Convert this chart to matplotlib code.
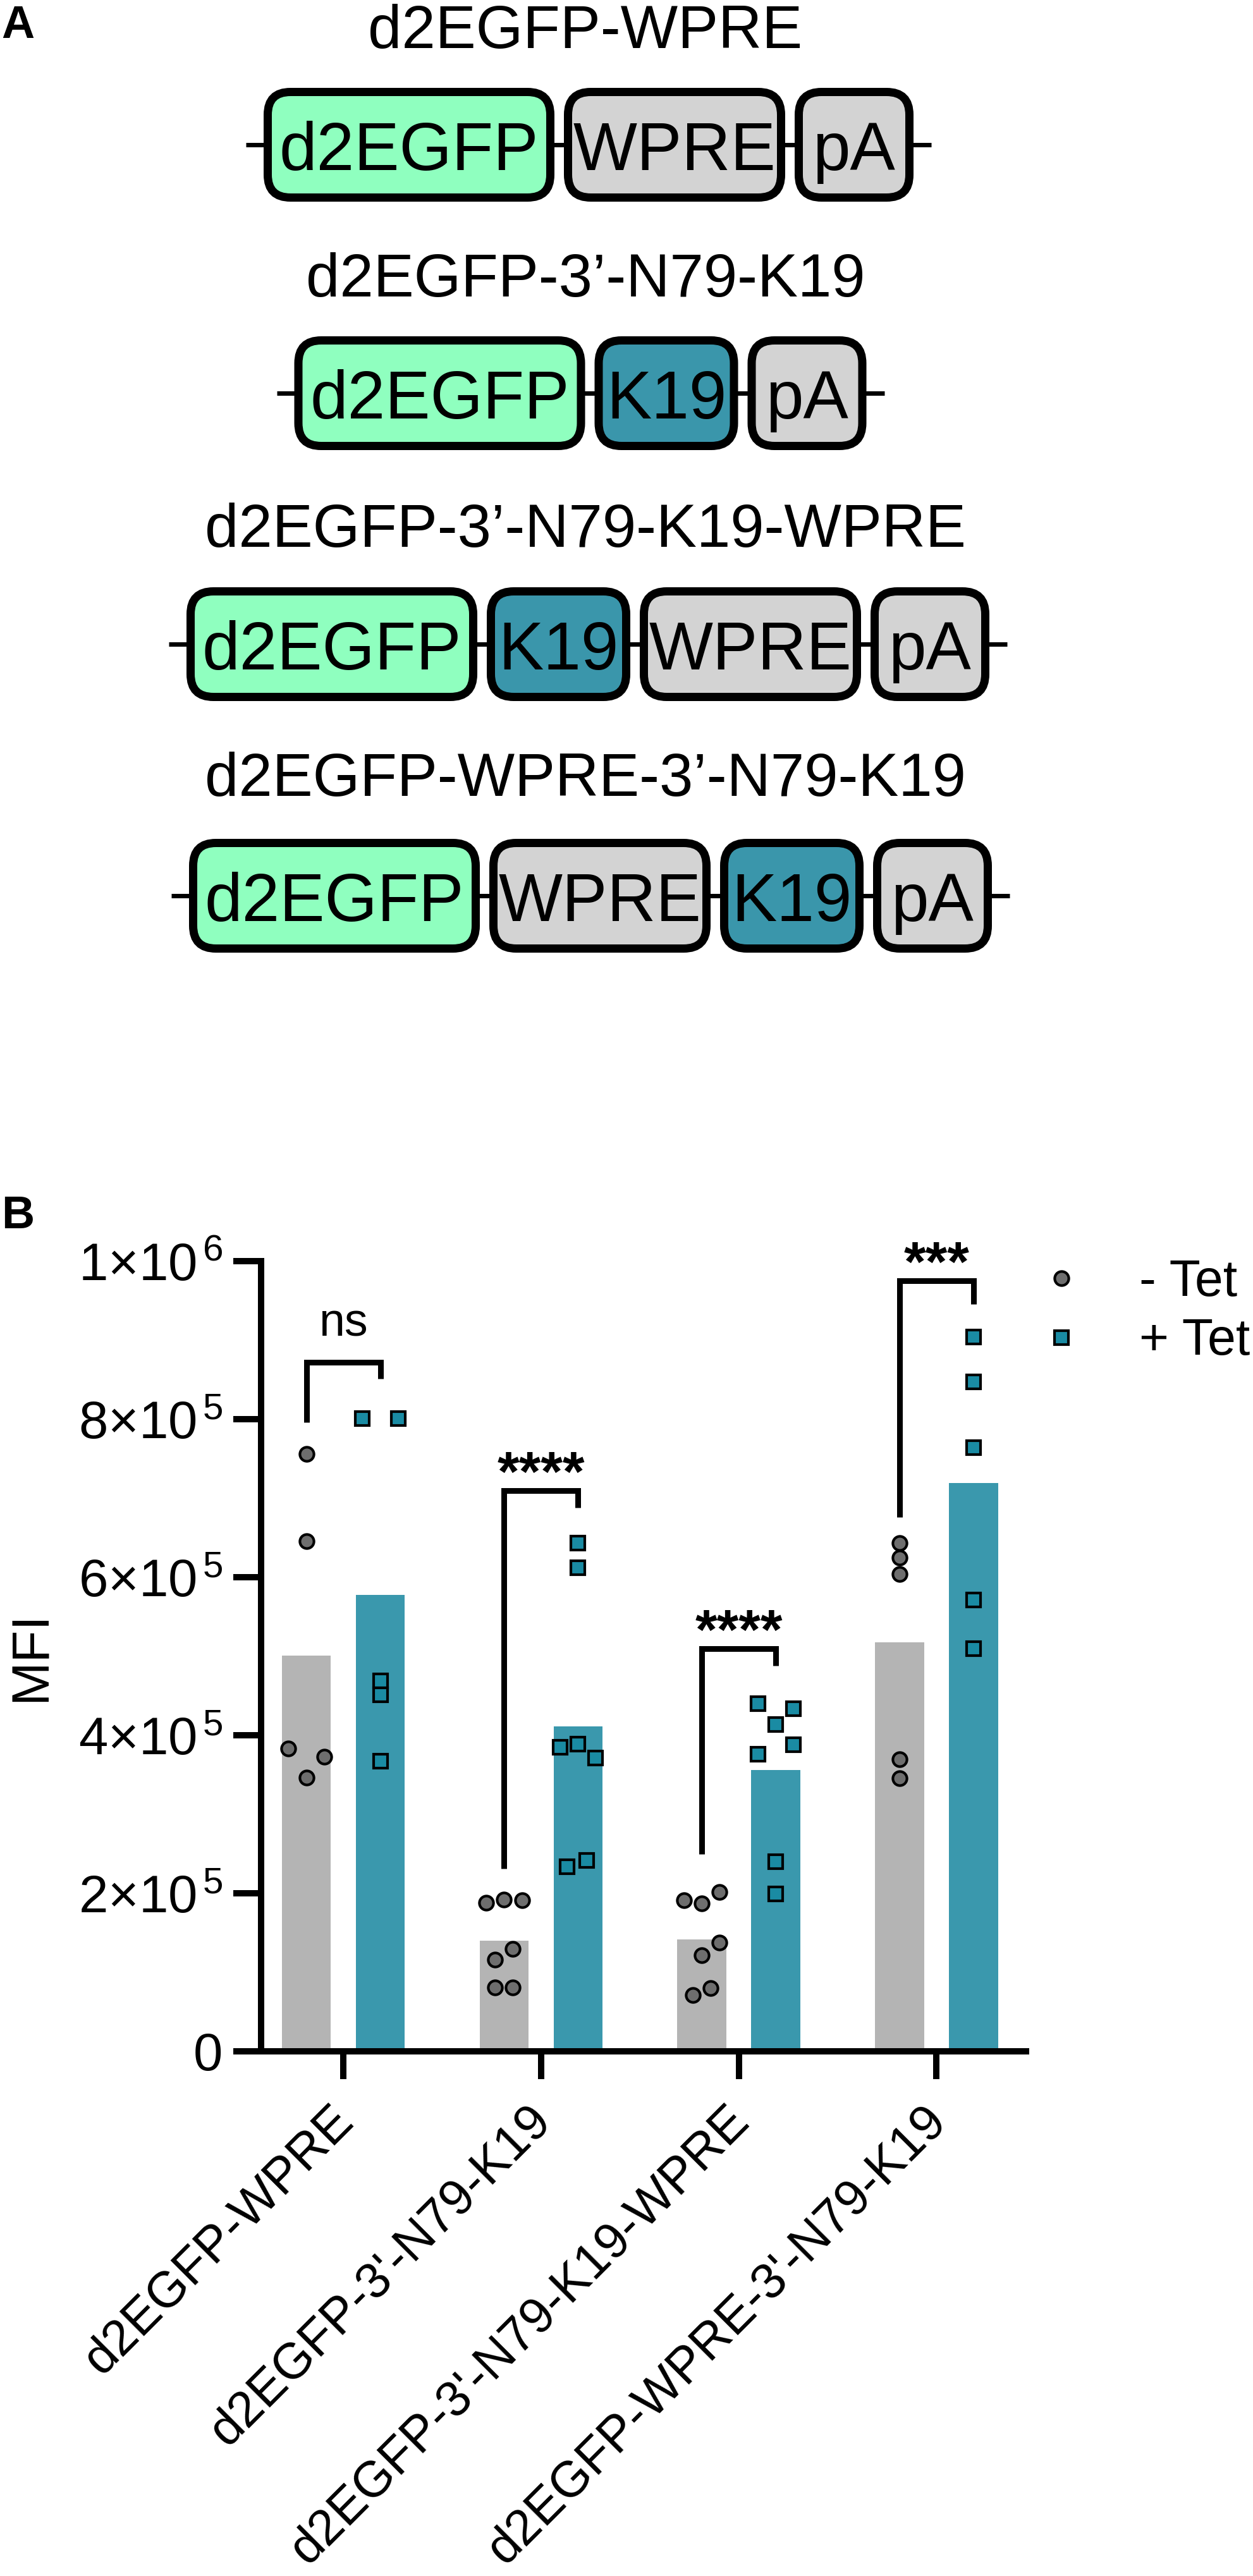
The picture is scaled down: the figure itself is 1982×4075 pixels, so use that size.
import numpy as np
import matplotlib
matplotlib.use("Agg")
import matplotlib.pyplot as plt
import matplotlib.transforms as mtransforms
from matplotlib.patches import FancyBboxPatch
from matplotlib.ticker import FixedLocator, FuncFormatter

plt.rcParams['font.family'] = ['Liberation Sans', 'DejaVu Sans']
plt.rcParams['mathtext.fontset'] = 'custom'
plt.rcParams['mathtext.rm'] = 'Liberation Sans'
plt.rcParams['mathtext.it'] = 'Liberation Sans:italic'
plt.rcParams['mathtext.bf'] = 'Liberation Sans:bold'

# ---------------- Daten ----------------
# Panel A: Konstrukte
konstrukt_titel = ['d2EGFP-WPRE', 'd2EGFP-3’-N79-K19',
                   'd2EGFP-3’-N79-K19-WPRE', 'd2EGFP-WPRE-3’-N79-K19']
konstrukt_teile = [['d2EGFP', 'WPRE', 'pA'],
                   ['d2EGFP', 'K19', 'pA'],
                   ['d2EGFP', 'K19', 'WPRE', 'pA'],
                   ['d2EGFP', 'WPRE', 'K19', 'pA']]

# Panel B: MFI
gruppen = ['d2EGFP-WPRE', "d2EGFP-3'-N79-K19",
           "d2EGFP-3'-N79-K19-WPRE", "d2EGFP-WPRE-3'-N79-K19"]
mfi_ohne_tet = [[756000, 645600, 383000, 372800, 346400],
                [188000, 192000, 191000, 116000, 130000, 81000, 81000],
                [191000, 187000, 202000, 122000, 138000, 71000, 80000],
                [643000, 625000, 604000, 370000, 345600]]
mfi_mit_tet = [[800800, 800800, 468800, 451000, 367000],
               [385000, 389000, 371000, 234000, 242000, 643000, 612000],
               [440000, 434000, 414000, 388000, 376000, 240000, 199000],
               [904000, 847000, 764000, 571000, 510000]]
# horizontale Streuung der Punkte
streuung_ohne = [[0, 0, -1, 1, 0],
                 [-1, 0, 1, -0.5, 0.5, -0.5, 0.5],
                 [-1, 0, 1, 0, 1, -0.5, 0.5],
                 [0, 0, 0, 0, 0]]
streuung_mit = [[-1, 1, 0, 0, 0],
                [-1, 0, 1, -0.6, 0.5, 0, 0],
                [-1, 1, 0, 1, -1, 0, 0],
                [0, 0, 0, 0, 0]]
signifikanz = ['ns', '****', '****', '***']
# Klammern: [linkes Ende, oben, rechtes Ende]
klammern = [[796000, 872000, 851000],
            [231000, 710000, 688000],
            [250000, 510000, 488000],
            [676000, 975000, 945600]]
y_ticks = [0, 2e5, 4e5, 6e5, 8e5, 1e6]

# ---------------- Figur ----------------
W, H = 1983, 4075
DPI = 100
px = 72 / DPI  # Pixel -> Punkt

fig = plt.figure(figsize=(W / DPI, H / DPI), dpi=DPI)
fig.patch.set_facecolor('white')

ax0 = fig.add_axes([0, 0, 1, 1])
ax0.set_xlim(0, W)
ax0.set_ylim(H, 0)
ax0.axis('off')

# Panel A
breiten = {'d2EGFP': 460, 'WPRE': 350, 'K19': 227, 'pA': 188}
farben = {'d2EGFP': '#8FFFBF', 'WPRE': '#D3D3D3', 'K19': '#3A96AB', 'pA': '#D3D3D3'}
zeilen_y = [229, 622, 1019, 1417]
zeilen_mitte = [931, 918, 930, 934]
titel_basis = [76, 469, 865, 1259]
box_h = 180
rand = 13
luecke = 15

for titel, teile, yz, xm, tb in zip(konstrukt_titel, konstrukt_teile,
                                   zeilen_y, zeilen_mitte, titel_basis):
    ax0.text(926, tb, titel, fontsize=69, ha='center', va='baseline')
    gesamt = sum(breiten[t] for t in teile) + luecke * (len(teile) - 1)
    x = xm - gesamt / 2
    ax0.plot([x - 28, x + gesamt + 28], [yz, yz], color='black',
             lw=7 * px, solid_capstyle='butt', zorder=1)
    for t in teile:
        w = breiten[t]
        box = FancyBboxPatch((x + rand / 2, yz - box_h / 2 + rand / 2),
                             w - rand, box_h - rand,
                             boxstyle='round,pad=0,rounding_size=36',
                             fc=farben[t], ec='black', lw=rand * px, zorder=2)
        ax0.add_patch(box)
        ax0.text(x + w / 2, yz + 40, t, fontsize=77, ha='center',
                 va='baseline', zorder=3)
        x += w + luecke

ax0.text(2, 60, 'A', fontsize=52, fontweight='bold', ha='left', va='baseline')
ax0.text(2, 1943, 'B', fontsize=52, fontweight='bold', ha='left', va='baseline')

# Panel B
ax_l, ax_r, ax_t, ax_b = 413, 1623, 1995, 3245
ax = fig.add_axes([ax_l / W, (H - ax_b) / H, (ax_r - ax_l) / W, (ax_b - ax_t) / H])
ax.set_facecolor('none')

xpos = np.arange(len(gruppen))
versatz = 0.187
breite = 0.248
streu_einheit = 0.09

mittel_ohne = [np.mean(v) for v in mfi_ohne_tet]
mittel_mit = [np.mean(v) for v in mfi_mit_tet]

ax.bar(xpos - versatz, mittel_ohne, width=breite, color='#B4B4B4', zorder=1)
ax.bar(xpos + versatz, mittel_mit, width=breite, color='#3A98AD', zorder=1)

for i in range(len(gruppen)):
    ax.plot(xpos[i] - versatz + np.array(streuung_ohne[i]) * streu_einheit,
            mfi_ohne_tet[i], 'o', ms=16, mfc='#6E6E6E', mec='black',
            mew=3, zorder=3, clip_on=False)
    ax.plot(xpos[i] + versatz + np.array(streuung_mit[i]) * streu_einheit,
            mfi_mit_tet[i], 's', ms=16, mfc='#1A8BA3', mec='black',
            mew=3, zorder=3, clip_on=False)

    links, oben, rechts = klammern[i]
    xl, xr = xpos[i] - versatz, xpos[i] + versatz
    ax.plot([xl, xl, xr, xr], [links, oben, oben, rechts], color='black',
            lw=9 * px, solid_capstyle='butt', solid_joinstyle='miter',
            zorder=4, clip_on=False)
    if signifikanz[i] == 'ns':
        ax.annotate('ns', xy=(xpos[i], oben), xytext=(0, 30),
                    textcoords='offset points', ha='center', va='baseline',
                    fontsize=53, annotation_clip=False)
    else:
        ax.annotate(signifikanz[i], xy=(xpos[i], oben), xytext=(0, 0),
                    textcoords='offset points', ha='center', va='baseline',
                    fontsize=64, fontweight='bold', annotation_clip=False)

ax.set_xlim(-0.416, 3.453)
ax.set_ylim(0, 1e6)

for s in ['top', 'right']:
    ax.spines[s].set_visible(False)
for s in ['left', 'bottom']:
    ax.spines[s].set_linewidth(10 * px)

def y_format(v, pos):
    if v == 0:
        return '0'
    e = int(np.floor(np.log10(v) + 1e-9))
    m = v / 10 ** e
    return f'{m:.0f}×10$^{{\\,{e}}}$'

ax.yaxis.set_major_locator(FixedLocator(y_ticks))
ax.yaxis.set_major_formatter(FuncFormatter(y_format))
ax.tick_params(axis='y', length=44 * px, width=10 * px, labelsize=60, pad=12)
ax.tick_params(axis='x', length=44 * px, width=10 * px, labelsize=57, pad=20)

ax.set_xticks(xpos)
ax.set_xticklabels(gruppen, rotation=45, ha='right', va='top',
                   rotation_mode='anchor')
verschiebung = mtransforms.ScaledTranslation(-0.22, 0, fig.dpi_scale_trans)
for lab in ax.get_xticklabels():
    lab.set_transform(lab.get_transform() + verschiebung)

ax.set_ylabel('MFI', fontsize=60)
ax.yaxis.set_label_coords(-0.268, 0.5)

# Legende
legende = [('o', '#6E6E6E', '- Tet', 2022, 2050),
           ('s', '#1A8BA3', '+ Tet', 2116, 2143)]
for mk, fc, txt, ym, yb in legende:
    ax0.plot([1679], [ym], mk, ms=16, mfc=fc, mec='black', mew=3)
    ax0.text(1802, yb, txt, fontsize=58, ha='left', va='baseline')

fig.savefig('out.png', dpi=DPI)
